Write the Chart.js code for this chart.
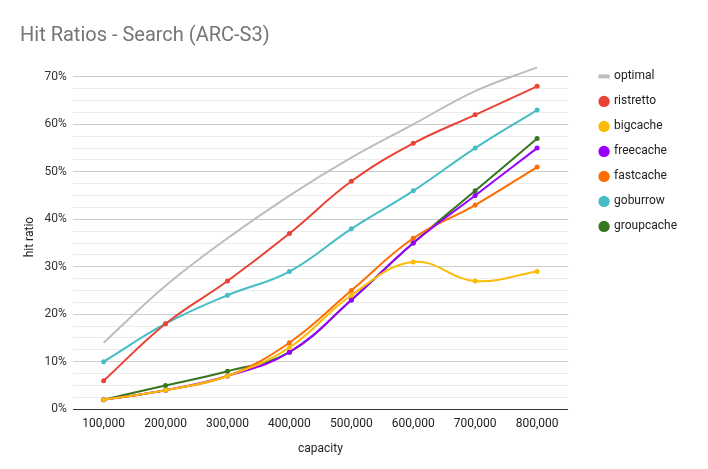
<!DOCTYPE html>
<html>
<head>
<meta charset="utf-8">
<script src="https://cdn.jsdelivr.net/npm/chart.js@4"></script>
<style>
  html, body { margin: 0; padding: 0; background: #fff; }
  #wrap { width: 708px; height: 469px; }
</style>
</head>
<body>
<div id="wrap"><canvas id="myChart" width="708" height="469"></canvas></div>
<script>
const capacities = ['100,000', '200,000', '300,000', '400,000', '500,000', '600,000', '700,000', '800,000'];

const optimal    = [0.14, 0.26, 0.36, 0.45, 0.53, 0.60, 0.67, 0.72];
const ristretto  = [0.06, 0.18, 0.27, 0.37, 0.48, 0.56, 0.62, 0.68];
const bigcache   = [0.02, 0.04, 0.07, 0.13, 0.24, 0.31, 0.27, 0.29];
const freecache  = [0.02, 0.04, 0.07, 0.12, 0.23, 0.35, 0.45, 0.55];
const fastcache  = [0.02, 0.04, 0.07, 0.14, 0.25, 0.36, 0.43, 0.51];
const goburrow   = [0.10, 0.18, 0.24, 0.29, 0.38, 0.46, 0.55, 0.63];
const groupcache = [0.02, 0.05, 0.08, 0.12, 0.23, 0.35, 0.46, 0.57];

const percentTicks = ['0%', '10%', '20%', '30%', '40%', '50%', '60%', '70%'];

function series(label, data, color) {
    return {
        label: label,
        data: data,
        borderColor: color,
        backgroundColor: color,
        pointBackgroundColor: color,
        pointBorderColor: color,
        pointRadius: 2.5,
        pointBorderWidth: 0,
        pointStyle: 'circle',
        borderWidth: 2,
        tension: 0.4
    };
}

const optimalSet = {
    label: 'optimal',
    data: optimal,
    borderColor: '#bdbdbd',
    backgroundColor: '#bdbdbd',
    pointBorderColor: '#bdbdbd',
    pointStyle: 'line',
    pointRadius: 0,
    pointHoverRadius: 0,
    pointBorderWidth: 4,
    borderWidth: 2,
    tension: 0.4
};

const ctx = document.getElementById('myChart').getContext('2d');

new Chart(ctx, {
    type: 'line',
    data: {
        labels: capacities,
        datasets: [
            optimalSet,
            series('ristretto', ristretto, '#ea4335'),
            series('bigcache', bigcache, '#fbbc04'),
            series('freecache', freecache, '#9900ff'),
            series('fastcache', fastcache, '#ff6d01'),
            series('goburrow', goburrow, '#46bdc6'),
            series('groupcache', groupcache, '#38761d')
        ]
    },
    options: {
        responsive: false,
        animation: false,
        layout: { padding: { left: 20, right: 21, top: 10, bottom: 13 } },
        plugins: {
            title: {
                display: true,
                text: 'Hit Ratios - Search (ARC-S3)',
                align: 'start',
                color: '#757575',
                font: { family: 'Roboto', size: 20, weight: 'normal' },
                padding: { top: 14, bottom: 17 }
            },
            legend: {
                position: 'right',
                align: 'start',
                title: {
                    display: true,
                    text: ' ',
                    font: { family: 'Roboto', size: 12 },
                    padding: { top: 0, bottom: 33 }
                },
                labels: {
                    usePointStyle: true,
                    boxWidth: 8,
                    boxHeight: 8,
                    padding: 13,
                    color: '#222',
                    font: { family: 'Roboto', size: 12 }
                }
            },
            tooltip: { enabled: false }
        },
        scales: {
            x: {
                offset: true,
                grid: { display: false, drawTicks: false },
                border: { display: false },
                ticks: {
                    color: '#222',
                    font: { family: 'Roboto', size: 12 },
                    padding: 8,
                    maxRotation: 0
                },
                title: {
                    display: true,
                    text: 'capacity',
                    color: '#222',
                    font: { family: 'Roboto', size: 12 },
                    padding: { top: 2, bottom: 0 }
                }
            },
            y: {
                min: 0,
                max: 0.725,
                grid: {
                    drawTicks: false,
                    color: function(c) {
                        const v = c.tick ? c.tick.value : 0;
                        const k = Math.round(v * 1000);
                        if (k === 0) return '#333';
                        if (k > 700) return 'rgba(0,0,0,0)';
                        if (k % 100 === 0) return '#cccccc';
                        return '#ebebeb';
                    },
                    lineWidth: 1
                },
                border: { display: false },
                ticks: {
                    stepSize: 0.025,
                    autoSkip: false,
                    color: '#333',
                    font: { family: 'Roboto', size: 12 },
                    padding: 6,
                    callback: function(value) {
                        const k = Math.round(value * 1000);
                        if (k % 100 === 0 && k <= 700) return percentTicks[k / 100];
                        return '';
                    }
                },
                title: {
                    display: true,
                    text: 'hit ratio',
                    color: '#222',
                    font: { family: 'Roboto', size: 12 },
                    padding: { top: 3, bottom: 1 }
                }
            },
            // empty spacer between the plot and the legend
            gap: {
                position: 'right',
                min: 0,
                max: 1,
                grid: { display: false, drawTicks: false },
                border: { display: false },
                ticks: { display: false },
                afterFit: function(scale) {
                    scale.width = 19;
                }
            }
        }
    }
});
</script>
</body>
</html>
